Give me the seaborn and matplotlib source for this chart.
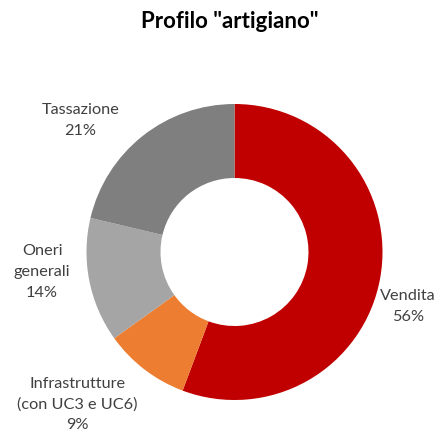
import matplotlib
matplotlib.use("Agg")
import matplotlib.pyplot as plt
import seaborn as sns

# dati del grafico
categorie = ["Vendita", "Infrastrutture\n(con UC3 e UC6)", "Oneri\ngenerali", "Tassazione"]
valori = [55.7, 9.4, 13.6, 21.3]
percentuali = ["56%", "9%", "14%", "21%"]
colori = ["#C00000", "#ED7D31", "#A5A5A5", "#7F7F7F"]

# posizioni delle etichette (coordinate del grafico, raggio = 1)
pos_etichette = [(1.17, -0.37), (-1.06, -1.03), (-1.30, -0.135), (-1.04, 0.89)]

sns.set_theme(style="white")
plt.rcParams["font.family"] = ["Lato", "DejaVu Sans"]

fig = plt.figure(figsize=(4.38, 4.37), dpi=100)
ax = fig.add_axes([86.5 / 438, 37 / 437, 296 / 438, 296 / 437])

wedges, testi = ax.pie(valori, colors=colori, startangle=90, counterclock=False,
                       labels=[f"{c}\n{p}" for c, p in zip(categorie, percentuali)],
                       wedgeprops=dict(width=0.5, edgecolor="none"),
                       textprops=dict(fontsize=11.7, color="#404040", ha="center",
                                      va="center", linespacing=1.6))
for t, pos in zip(testi, pos_etichette):
    t.set_position(pos)
    t.set_ha("center")
    t.set_va("center")

ax.set_xlim(-1, 1)
ax.set_ylim(-1, 1)
ax.set_aspect("equal")
ax.axis("off")

fig.text(230 / 438, 1 - 22 / 437, 'Profilo "artigiano"', ha="center", va="center",
         fontsize=16, fontweight="bold", color="black")

plt.savefig("out.png", dpi=100)
plt.close()
